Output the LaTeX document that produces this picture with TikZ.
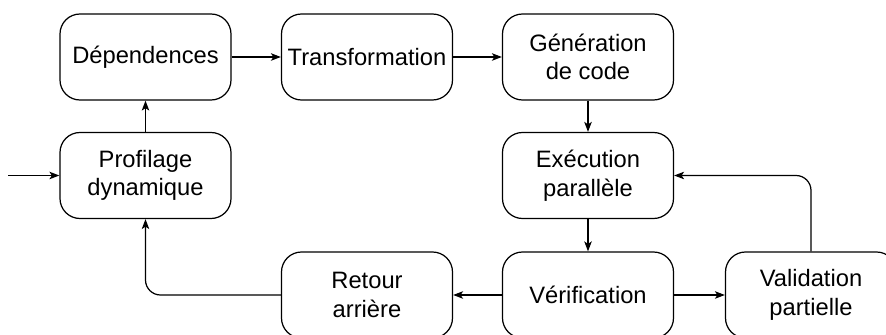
\documentclass[tikz,border=0pt]{standalone}
\usepackage{fontspec}
\setmainfont{Liberation Sans}
\usetikzlibrary{arrows.meta}
\begin{document}
\begin{tikzpicture}[box/.style={draw, rounded corners=0.4cm, minimum width=3.42cm, minimum height=1.72cm, align=center, line width=0.7pt, font=\fontsize{13.5}{16.2}\selectfont},
    fleche/.style={-{Stealth[length=0.2cm, width=0.15cm, inset=0.05cm]}, line width=0.7pt}]
        \useasboundingbox (0,0) rectangle (17.72,6.7);
        \node[box] (dep) at (2.91,5.56) {Dépendences};
        \node[box] (trans) at (7.34,5.56) {Transformation};
        \node[box] (gen) at (11.76,5.56) {Génération\\de code};
        \node[box] (prof) at (2.91,3.19) {Profilage\\dynamique};
        \node[box] (exec) at (11.76,3.19) {Exécution\\parallèle};
        \node[box] (ret) at (7.34,0.8) {Retour\\arrière};
        \node[box] (verif) at (11.76,0.8) {Vérification};
        \node[box] (valid) at (16.22,0.8) {Validation\\partielle};
        \coordinate (entree) at (0.16,3.19);
        \draw[fleche] (entree) -- (prof);
        \draw[fleche] (prof) -- (dep);
        \draw[fleche] (dep) -- (trans);
        \draw[fleche] (trans) -- (gen);
        \draw[fleche] (gen) -- (exec);
        \draw[fleche] (exec) -- (verif);
        \draw[fleche] (verif) -- (ret);
        \draw[fleche] (verif) -- (valid);
        \draw[fleche, rounded corners=0.3cm] (valid.north) |- (exec.east);
        \draw[fleche, rounded corners=0.3cm] (ret.west) -| (prof.south);
\end{tikzpicture}
\end{document}
